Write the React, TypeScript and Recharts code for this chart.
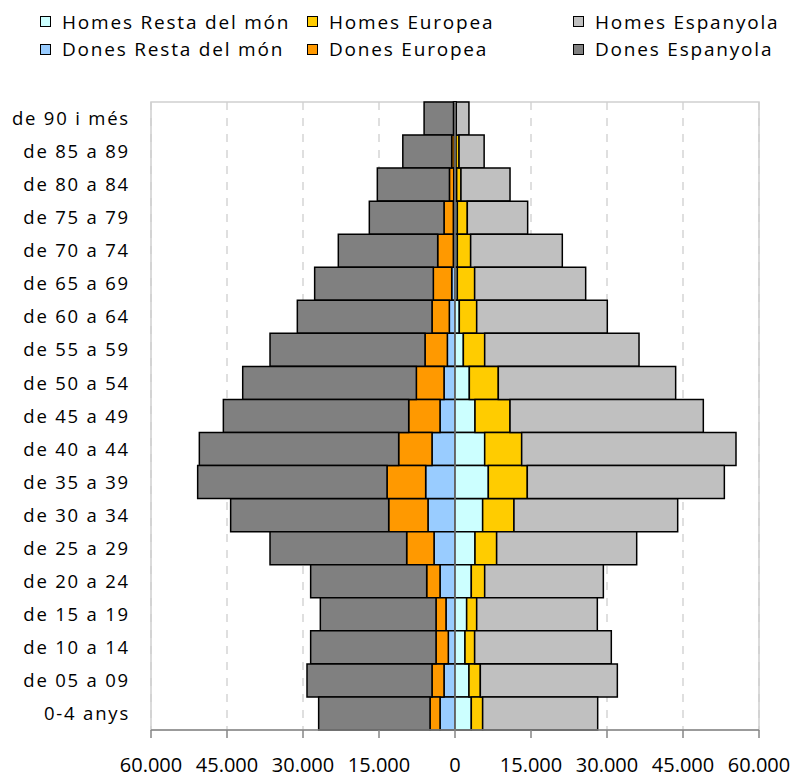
import {
  BarChart,
  Bar,
  XAxis,
  YAxis,
  CartesianGrid,
  Legend,
  ReferenceLine,
  ReferenceArea,
} from 'recharts';

const ages = [
  'de 90 i més', 'de 85 a 89', 'de 80 a 84', 'de 75 a 79', 'de 70 a 74',
  'de 65 a 69', 'de 60 a 64', 'de 55 a 59', 'de 50 a 54', 'de 45 a 49',
  'de 40 a 44', 'de 35 a 39', 'de 30 a 34', 'de 25 a 29', 'de 20 a 24',
  'de 15 a 19', 'de 10 a 14', 'de 05 a 09', '0-4 anys',
];

const homesResta = [100, 200, 330, 460, 460, 460, 850, 1650, 2830, 3950, 5860, 6580, 5460, 3950, 3220, 2300, 1970, 2760, 3220];
const homesEuropea = [150, 600, 850, 1970, 2630, 3420, 3430, 4210, 5720, 6910, 7300, 7690, 6180, 4270, 2640, 1980, 1910, 2240, 2240];
const homesEspanyola = [2500, 4950, 9680, 11910, 18090, 21910, 25780, 30460, 35000, 38150, 42300, 38890, 32310, 27640, 23420, 23810, 26970, 27040, 22700];

const donesResta = [100, 150, 250, 330, 330, 650, 1120, 1510, 2170, 2960, 4540, 5790, 5330, 4140, 2960, 1780, 1320, 2170, 2960];
const donesEuropea = [200, 500, 850, 1840, 3090, 3630, 3420, 4410, 5460, 6180, 6580, 7630, 7760, 5400, 2630, 1970, 2430, 2370, 1970];
const donesEspanyola = [5800, 9650, 14230, 14740, 19610, 23420, 26580, 30590, 34270, 36580, 39340, 37370, 31190, 26970, 22900, 22830, 24740, 24670, 21980];

const xTicks = [-60000, -45000, -30000, -15000, 0, 15000, 30000, 45000, 60000];

const FONT = '"Open Sans", sans-serif';

// legend entries, in the reference's reading order
const legendItems = [
  { label: 'Homes Resta del món', color: '#CCFFFF', col: 0, row: 0 },
  { label: 'Homes Europea', color: '#FFCC00', col: 1, row: 0 },
  { label: 'Homes Espanyola', color: '#C0C0C0', col: 2, row: 0 },
  { label: 'Dones Resta del món', color: '#99CCFF', col: 0, row: 1 },
  { label: 'Dones Europea', color: '#FF9900', col: 1, row: 1 },
  { label: 'Dones Espanyola', color: '#808080', col: 2, row: 1 },
];

const data = ages.map((age, i) => ({
  age,
  donesResta: -donesResta[i],
  donesEuropea: -donesEuropea[i],
  donesEspanyola: -donesEspanyola[i],
  homesResta: homesResta[i],
  homesEuropea: homesEuropea[i],
  homesEspanyola: homesEspanyola[i],
}));

const fmt = (v: number) => String(Math.abs(v)).replace(/\B(?=(\d{3})+(?!\d))/g, '.');

function LegendBox() {
  const colX = [40, 307, 573];
  const rowY = [21.5, 49];
  return (
    <div style={{ position: 'relative', width: 794, height: 80 }}>
      {legendItems.map((it) => (
        <div
          key={it.label}
          style={{
            position: 'absolute',
            left: colX[it.col],
            top: rowY[it.row] - 12,
            height: 24,
            display: 'flex',
            alignItems: 'center',
            fontFamily: FONT,
            fontSize: 19,
            letterSpacing: 1.8,
            color: '#000',
            whiteSpace: 'nowrap',
          }}
        >
          <span
            style={{
              display: 'inline-block',
              width: 9,
              height: 9,
              background: it.color,
              border: '1.5px solid #000',
              marginRight: 11,
            }}
          />
          {it.label}
        </div>
      ))}
    </div>
  );
}

export default function App() {
  return (
    <div style={{ position: 'absolute', left: 0, top: 0 }}>
      <BarChart
        width={794}
        height={780}
        data={data}
        layout="vertical"
        stackOffset="sign"
        barCategoryGap={0}
        margin={{ top: 22, right: 35, left: 0, bottom: 0 }}
      >
        <Legend
          verticalAlign="top"
          layout="horizontal"
          content={() => <LegendBox />}
          wrapperStyle={{ top: 0, left: 0, width: 794, height: 80 }}
        />
        <CartesianGrid horizontal={false} stroke="#BFBFBF" strokeDasharray="8 8" />
        <ReferenceArea x1={-60000} x2={60000} fill="none" stroke="#D0D0D0" strokeWidth={1.5} />
        <XAxis
          type="number"
          domain={[-60000, 60000]}
          ticks={xTicks}
          interval={0}
          tickFormatter={fmt}
          height={50}
          tickSize={8}
          tickMargin={20}
          axisLine={{ stroke: '#868686', strokeWidth: 1.5 }}
          tickLine={{ stroke: '#868686', strokeWidth: 1.5 }}
          tick={{ fontFamily: FONT, fontSize: 20, fill: '#000' }}
        />
        <YAxis
          type="category"
          dataKey="age"
          width={151}
          interval={0}
          axisLine={false}
          tickLine={false}
          tickSize={0}
          tickMargin={21}
          tick={{ fontFamily: FONT, fontSize: 18.5, fill: '#000', letterSpacing: 1.8 }}
        />
        <Bar dataKey="donesResta" stackId="a" fill="#99CCFF" stroke="#000" strokeWidth={1.5} isAnimationActive={false} />
        <Bar dataKey="donesEuropea" stackId="a" fill="#FF9900" stroke="#000" strokeWidth={1.5} isAnimationActive={false} />
        <Bar dataKey="donesEspanyola" stackId="a" fill="#808080" stroke="#000" strokeWidth={1.5} isAnimationActive={false} />
        <Bar dataKey="homesResta" stackId="a" fill="#CCFFFF" stroke="#000" strokeWidth={1.5} isAnimationActive={false} />
        <Bar dataKey="homesEuropea" stackId="a" fill="#FFCC00" stroke="#000" strokeWidth={1.5} isAnimationActive={false} />
        <Bar dataKey="homesEspanyola" stackId="a" fill="#C0C0C0" stroke="#000" strokeWidth={1.5} isAnimationActive={false} />
        <ReferenceLine x={0} stroke="#808080" strokeWidth={1.5} />
      </BarChart>
    </div>
  );
}
